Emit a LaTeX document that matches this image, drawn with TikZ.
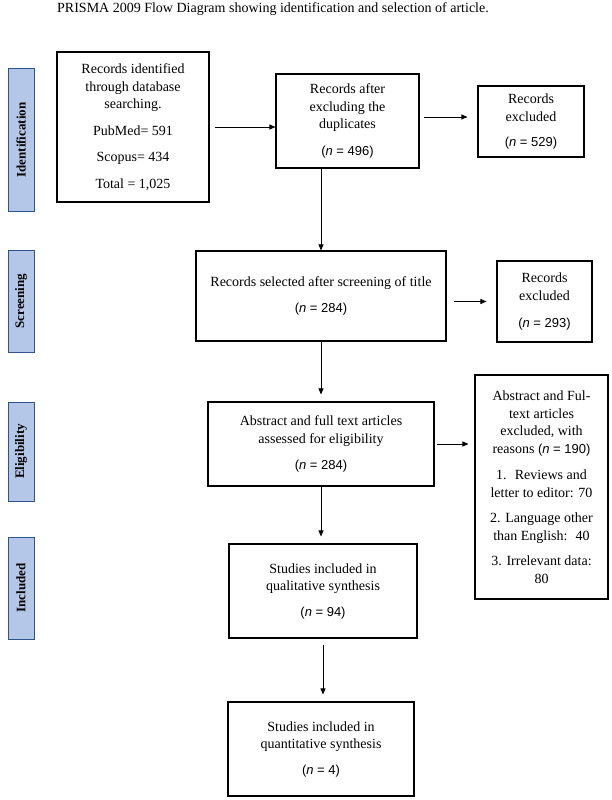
\documentclass[tikz,border=0pt]{standalone}
\usepackage{fontspec}
\setmainfont{Liberation Serif}
\newfontfamily\arialfont{Liberation Sans}
\usetikzlibrary{positioning,arrows.meta}
\definecolor{phasefill}{RGB}{180,199,231}
\definecolor{phaseline}{RGB}{47,82,143}
\newcommand{\nval}[1]{{\arialfont\fontsize{13}{17.5}\selectfont(\textit{n} = #1)}}

\begin{document}
\begin{tikzpicture}[x=1pt, y=-1pt,
    box/.style={draw, line width=1.1pt, align=center, inner sep=0pt,
      font=\fontsize{14}{17.5}\selectfont},
    phase/.style={draw=phaseline, fill=phasefill, line width=1pt, rotate=90,
      minimum height=26pt, inner sep=0pt, font=\bfseries\fontsize{13}{15}\selectfont},
    flow/.style={-{Triangle[length=6pt,width=5pt]}, line width=0.8pt}]
  \useasboundingbox (0,0) rectangle (611,800);

  % title
  \node[anchor=base west, inner sep=0pt, font=\fontsize{14}{16}\selectfont] (title) at (57,13)
    {PRISMA 2009 Flow Diagram showing identification and selection of article.};

  % phases
  \node[phase, minimum width=142pt] (idph) at (21,140) {Identification};
  \node[phase, minimum width=102pt] (scrph) at (21,301) {Screening};
  \node[phase, minimum width=99pt] (eliph) at (21,451.5) {Eligibility};
  \node[phase, minimum width=102pt] (incph) at (21,588) {Included};

  % boxes
  \node[box, minimum width=152pt, minimum height=150pt] (found) at (133,127)
    {Records identified\\through database\\searching.\\[9pt]PubMed= 591\\[9pt]Scopus= 434\\[9pt]Total = 1,025};
  \node[box, minimum width=143pt, minimum height=94pt] (dedup) at (347.5,121)
    {Records after\\excluding the\\duplicates\\[9pt]\nval{496}};
  \node[box, minimum width=106pt, minimum height=71pt] (excl1) at (531,121.5)
    {Records\\excluded\\[8pt]\nval{529}};
  \node[box, minimum width=250pt, minimum height=90pt] (screen) at (321,296)
    {Records selected after screening of title\\[9pt]\nval{284}};
  \node[box, minimum width=95pt, minimum height=81pt] (excl2) at (544.5,301.5)
    {Records\\excluded\\[10pt]\nval{293}};
  \node[box, minimum width=226pt, minimum height=84pt] (elig) at (321,444)
    {Abstract and full text articles\\assessed for eligibility\\[9pt]\nval{284}};
  \node[box, minimum width=133pt, minimum height=224pt] (excl3) at (541.5,487)
    {Abstract and Ful-\\text articles\\excluded, with\\reasons \nval{190}\\[9pt]1.~ Reviews and\\letter to editor: 70\\[8pt]2. Language other\\than English:~ 40\\[8pt]3. Irrelevant data:\\80};
  \node[box, minimum width=188pt, minimum height=94pt] (qual) at (323,591)
    {Studies included in\\qualitative synthesis\\[8pt]\nval{94}};
  \node[box, minimum width=186pt, minimum height=94pt] (quant) at (321,749)
    {Studies included in\\quantitative synthesis\\[8pt]\nval{4}};

  % arrows
  \draw[flow, shorten <=5pt] (found) -- (found -| dedup.west);
  \draw[flow, shorten <=4pt, shorten >=10pt] ([yshift=4pt]dedup.east) -- ([yshift=4pt]dedup.east -| excl1.west);
  \draw[flow] (screen.north |- dedup.south) -- (screen.north);
  \draw[flow, shorten <=7pt, shorten >=10pt] (screen.east |- excl2) -- (excl2.west);
  \draw[flow, shorten >=7pt] (screen) -- (elig);
  \draw[flow, shorten <=2pt, shorten >=6pt] (elig) -- (elig -| excl3.west);
  \draw[flow, shorten >=7pt] (elig.south) -- (elig.south |- qual.north);
  \draw[flow, shorten <=6pt, shorten >=7pt] (qual.south) -- (qual.south |- quant.north);
\end{tikzpicture}
\end{document}
